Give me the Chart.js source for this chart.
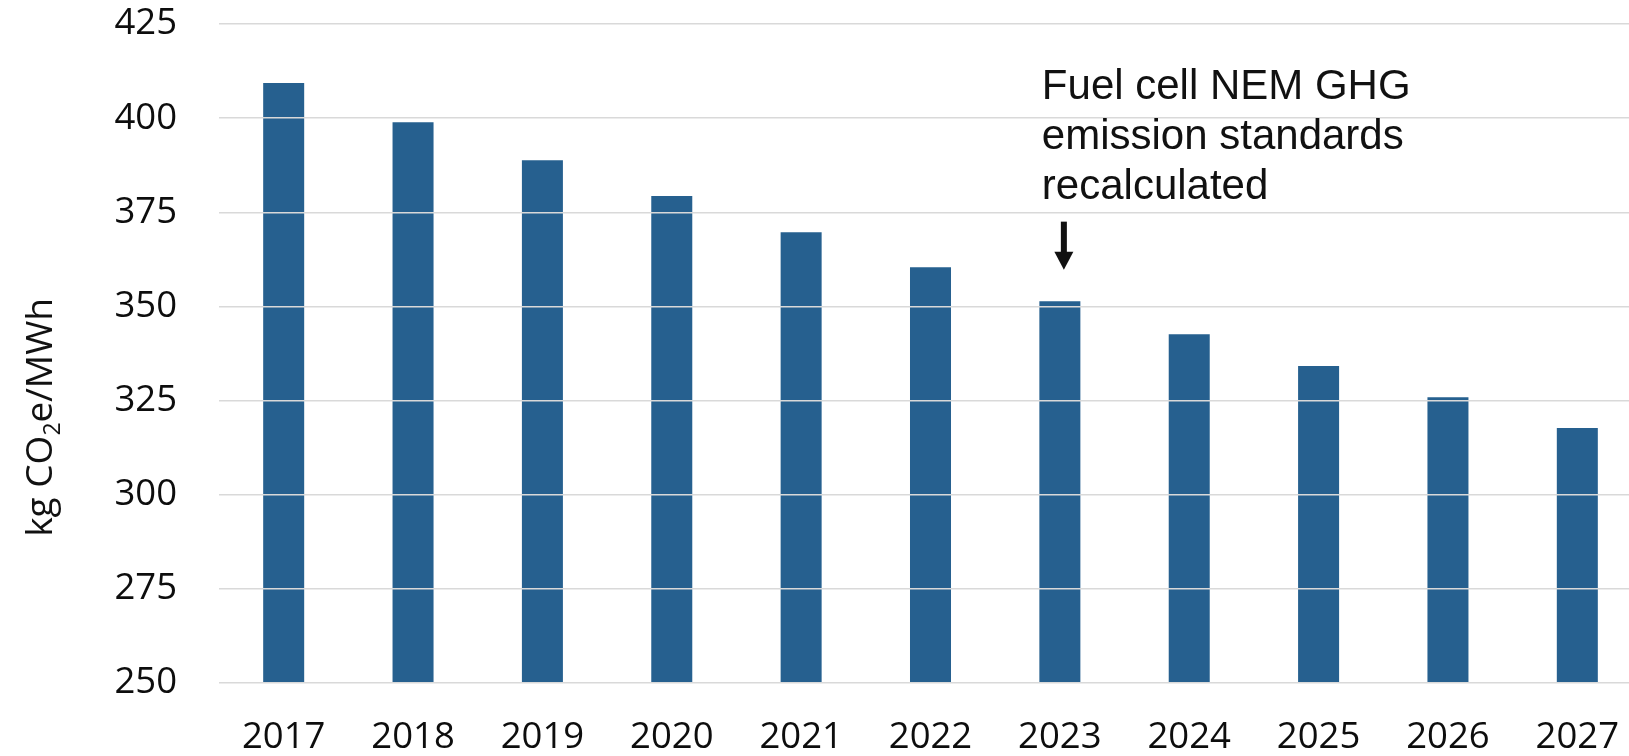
<!DOCTYPE html>
<html>
<head>
<meta charset="utf-8">
<title>Fuel cell NEM GHG emission standards</title>
<script src="https://cdn.jsdelivr.net/npm/chart.js@4.4.1/dist/chart.umd.min.js"></script>
<style>
  html, body { margin: 0; padding: 0; background: #ffffff; overflow: hidden; }
  #wrap { width: 1642px; height: 756px; }
</style>
</head>
<body>
<div id="wrap"><canvas id="chart" width="1642" height="756"></canvas></div>
<script>
// Annual GHG emission standard, kg CO2e per MWh
const years = ['2017', '2018', '2019', '2020', '2021', '2022', '2023', '2024', '2025', '2026', '2027'];
const emissions = [409.3, 398.9, 388.8, 379.3, 369.7, 360.4, 351.4, 342.6, 334.2, 325.9, 317.7];
const yMin = 250;
const yMax = 425;
const yStep = 25;
const noteYear = '2023';
const noteLines = ['Fuel cell NEM GHG', 'emission standards', 'recalculated'];

const tickFont = { family: '"Open Sans", "Noto Sans", sans-serif', size: 36.5 };

// Rotated y-axis title with a subscript "2"
const yTitlePlugin = {
  id: 'yTitle',
  afterDraw(chart) {
    const ctx = chart.ctx;
    const area = chart.chartArea;
    const big = '37px "Open Sans", "Noto Sans", sans-serif';
    const small = '23px "Open Sans", "Noto Sans", sans-serif';
    const parts = [
      { t: 'kg CO', f: big, dy: 0 },
      { t: '2', f: small, dy: 8 },
      { t: 'e/MWh', f: big, dy: 0 }
    ];
    ctx.save();
    let total = 0;
    parts.forEach(p => { ctx.font = p.f; p.w = ctx.measureText(p.t).width; total += p.w; });
    const cy = area.top + (area.bottom - area.top) * 0.597;
    ctx.translate(51.5, cy);
    ctx.rotate(-Math.PI / 2);
    ctx.fillStyle = '#111111';
    ctx.textBaseline = 'alphabetic';
    ctx.textAlign = 'left';
    let x = -total / 2;
    parts.forEach(p => { ctx.font = p.f; ctx.fillText(p.t, x, p.dy); x += p.w; });
    ctx.restore();
  }
};

// Callout text and arrow pointing at the recalculation year
const notePlugin = {
  id: 'note',
  afterDraw(chart) {
    const ctx = chart.ctx;
    const idx = years.indexOf(noteYear);
    const cx = chart.scales.x.getPixelForValue(idx);
    const barTop = chart.scales.y.getPixelForValue(emissions[idx]);
    const tipY = barTop - 31.5;
    const ax = cx + 4;
    ctx.save();
    ctx.fillStyle = '#111111';
    // shaft
    ctx.fillRect(ax - 3, tipY - 48, 6, 31);
    // head
    ctx.beginPath();
    ctx.moveTo(ax - 9.5, tipY - 18);
    ctx.lineTo(ax + 9.5, tipY - 18);
    ctx.lineTo(ax, tipY);
    ctx.closePath();
    ctx.fill();
    // text
    ctx.font = '42px "Liberation Sans", Arial, sans-serif';
    ctx.textAlign = 'left';
    ctx.textBaseline = 'alphabetic';
    const left = cx - 18;
    const lastBase = tipY - 71;
    noteLines.forEach((line, i) => {
      ctx.fillText(line, left, lastBase - (noteLines.length - 1 - i) * 50);
    });
    ctx.restore();
  }
};

new Chart(document.getElementById('chart'), {
  type: 'bar',
  data: {
    labels: years,
    datasets: [{
      data: emissions,
      backgroundColor: '#26608f',
      borderWidth: 0,
      barPercentage: 0.317,
      categoryPercentage: 1.0
    }]
  },
  options: {
    responsive: false,
    animation: false,
    devicePixelRatio: 1,
    layout: { padding: { top: 24, left: 0, right: 0, bottom: 0 } },
    plugins: {
      legend: { display: false },
      tooltip: { enabled: false },
      title: { display: false }
    },
    scales: {
      x: {
        grid: { display: false },
        border: { display: false },
        ticks: {
          font: tickFont,
          color: '#0d0d0d',
          padding: 25,
          autoSkip: false,
          maxRotation: 0
        },
        afterFit(scale) {
          scale.height = 73;
          scale.paddingLeft = 0;
          scale.paddingRight = 0;
        }
      },
      y: {
        min: yMin,
        max: yMax,
        grid: { color: '#d9d9d9', lineWidth: 1.5, drawTicks: false, z: 1 },
        border: { display: false },
        ticks: {
          stepSize: yStep,
          font: tickFont,
          color: '#0d0d0d',
          padding: 42
        },
        afterFit(scale) {
          scale.width = 219;
          scale.paddingTop = 0;
          scale.paddingBottom = 0;
        }
      }
    }
  },
  plugins: [yTitlePlugin, notePlugin]
});
</script>
</body>
</html>
